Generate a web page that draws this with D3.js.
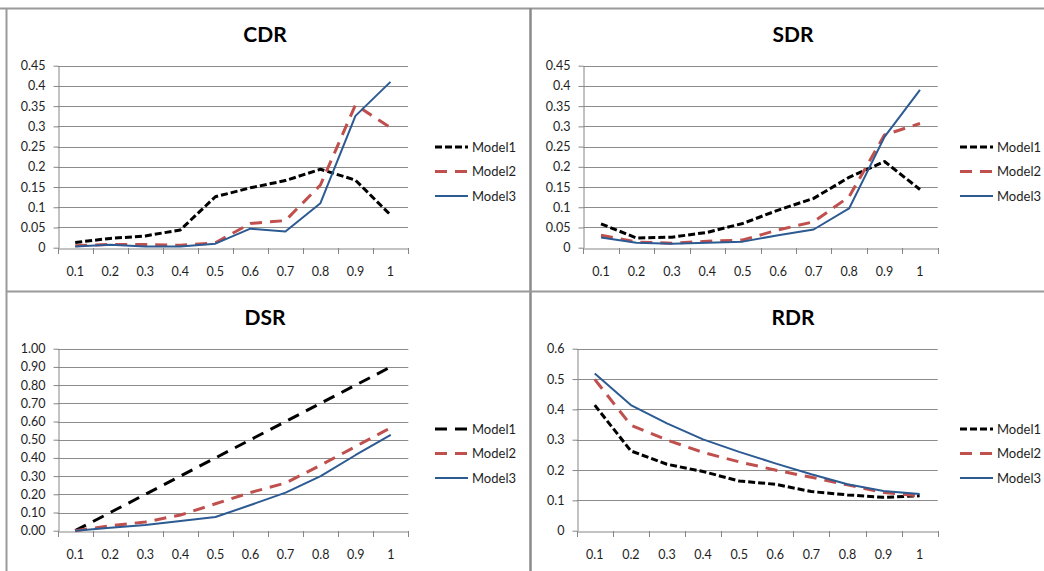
<!DOCTYPE html>
<html><head><meta charset="utf-8">
<script src="https://d3js.org/d3.v7.min.js"></script>
<style>
html,body{margin:0;padding:0;background:#fff;}
svg{display:block;font-family:Lato,"Liberation Sans",sans-serif;}
</style></head>
<body><svg id="c" width="1044" height="571"></svg>
<script>
const categories = ["0.1","0.2","0.3","0.4","0.5","0.6","0.7","0.8","0.9","1"];
const seriesNames = ["Model1","Model2","Model3"];

const cdrModel1 = [0.013,0.023,0.029,0.044,0.126,0.148,0.166,0.194,0.167,0.081];
const cdrModel2 = [0.005,0.008,0.008,0.006,0.012,0.060,0.067,0.155,0.353,0.297];
const cdrModel3 = [0.003,0.007,0.003,0.003,0.010,0.047,0.040,0.110,0.326,0.410];

const sdrModel1 = [0.059,0.024,0.026,0.038,0.060,0.093,0.122,0.174,0.213,0.144];
const sdrModel2 = [0.031,0.014,0.011,0.016,0.019,0.044,0.064,0.126,0.279,0.307];
const sdrModel3 = [0.025,0.012,0.010,0.012,0.015,0.031,0.045,0.097,0.274,0.390];

const dsrModel1 = [0.00,0.10,0.20,0.30,0.40,0.50,0.60,0.70,0.80,0.90];
const dsrModel2 = [0.000,0.027,0.048,0.086,0.148,0.210,0.262,0.360,0.463,0.566];
const dsrModel3 = [0.000,0.016,0.031,0.053,0.075,0.141,0.209,0.300,0.416,0.526];

const rdrModel1 = [0.414,0.263,0.219,0.195,0.164,0.153,0.129,0.118,0.110,0.115];
const rdrModel2 = [0.499,0.348,0.299,0.258,0.227,0.200,0.176,0.151,0.126,0.115];
const rdrModel3 = [0.518,0.414,0.354,0.301,0.260,0.222,0.186,0.153,0.131,0.121];

const ticks045 = [0,0.05,0.1,0.15,0.2,0.25,0.3,0.35,0.4,0.45];
const ticksDSR = [0,0.1,0.2,0.3,0.4,0.5,0.6,0.7,0.8,0.9,1.0];
const ticksRDR = [0,0.1,0.2,0.3,0.4,0.5,0.6];

const styles = [
  {color:"#000000", width:3, dash:"7,3"},
  {color:"#C0504D", width:3, dash:"12,8"},
  {color:"#2C5A92", width:2, dash:null}
];
const longDashBlack = {color:"#000000", width:3, dash:"12,8"};

const panels = [
  {title:"CDR", data:[cdrModel1,cdrModel2,cdrModel3], ticks:ticks045, max:0.45, fmt:d3.format("~g"),
   x0:57.7, x1:408, y0:65.7, y1:247.7, tx:265, ty:42, lx:435, ly:147, st:styles},
  {title:"SDR", data:[sdrModel1,sdrModel2,sdrModel3], ticks:ticks045, max:0.45, fmt:d3.format("~g"),
   x0:583.3, x1:937.7, y0:65.7, y1:247.7, tx:793, ty:42, lx:960, ly:147, st:styles},
  {title:"DSR", data:[dsrModel1,dsrModel2,dsrModel3], ticks:ticksDSR, max:1.0, fmt:d3.format(".2f"),
   x0:57.7, x1:408.3, y0:348.7, y1:530.7, tx:265, ty:325, lx:435, ly:429, st:[longDashBlack,styles[1],styles[2]]},
  {title:"RDR", data:[rdrModel1,rdrModel2,rdrModel3], ticks:ticksRDR, max:0.6, fmt:d3.format("~g"),
   x0:576.7, x1:937.7, y0:348.7, y1:530.7, tx:793, ty:325, lx:960, ly:429, st:styles}
];

const svg = d3.select("#c");

// panel borders
const border = "#9a9a9a";
svg.append("line").attr("x1",0).attr("x2",1044).attr("y1",8.5).attr("y2",8.5).attr("stroke",border).attr("stroke-width",2);
svg.append("line").attr("x1",6.5).attr("x2",6.5).attr("y1",8).attr("y2",571).attr("stroke",border).attr("stroke-width",2);
svg.append("line").attr("x1",530.5).attr("x2",530.5).attr("y1",8).attr("y2",571).attr("stroke","#8a8a8a").attr("stroke-width",2.5);
svg.append("line").attr("x1",6).attr("x2",1044).attr("y1",291.5).attr("y2",291.5).attr("stroke",border).attr("stroke-width",2);

const tickFont = "12.5px";

panels.forEach(p => {
  const g = svg.append("g");
  const x = d3.scaleBand().domain(categories).range([p.x0,p.x1]).padding(0);
  const y = d3.scaleLinear().domain([0,p.max]).range([p.y1,p.y0]);

  // gridlines
  g.append("g").selectAll("line").data(p.ticks.filter(t=>t>0)).join("line")
    .attr("x1",p.x0).attr("x2",p.x1)
    .attr("y1",d=>Math.round(y(d))+0.5).attr("y2",d=>Math.round(y(d))+0.5)
    .attr("stroke","#8c8c8c").attr("stroke-width",1);

  // y axis
  const ya = g.append("g").attr("transform",`translate(${Math.round(p.x0)+0.5},0)`)
    .call(d3.axisLeft(y).tickValues(p.ticks).tickSize(5).tickSizeOuter(0).tickPadding(8).tickFormat(p.fmt));
  ya.select(".domain").attr("stroke","#868686");
  ya.selectAll(".tick line").attr("stroke","#868686");
  ya.selectAll(".tick text").attr("fill","#1e1e1e").style("font-size",tickFont).style("font-family","Lato, 'Liberation Sans', sans-serif");

  // x axis labels
  const xa = g.append("g").attr("transform",`translate(0,${Math.round(p.y1)+0.5})`)
    .call(d3.axisBottom(x).tickSize(0).tickPadding(19));
  xa.select(".domain").attr("stroke","#868686");
  xa.selectAll(".tick text").attr("fill","#1e1e1e").style("font-size",tickFont).style("font-family","Lato, 'Liberation Sans', sans-serif");
  // boundary tick marks
  const bounds = categories.map(c=>x(c)).concat([p.x1]);
  g.append("g").selectAll("line").data(bounds).join("line")
    .attr("x1",d=>Math.round(d)+0.5).attr("x2",d=>Math.round(d)+0.5)
    .attr("y1",Math.round(p.y1)).attr("y2",Math.round(p.y1)+6)
    .attr("stroke","#868686");

  // lines
  const line = d3.line().x((d,i)=>x(categories[i])+x.bandwidth()/2).y(d=>y(d));
  p.data.forEach((vals,si)=>{
    const s = p.st[si];
    g.append("path").datum(vals).attr("d",line).attr("fill","none")
      .attr("stroke",s.color).attr("stroke-width",s.width)
      .attr("stroke-dasharray",s.dash).attr("stroke-linejoin","round");
  });

  // title
  g.append("text").attr("x",p.tx).attr("y",p.ty).attr("text-anchor","middle")
    .style("font-size","21px").style("font-weight","bold").attr("fill","#000").text(p.title);

  // legend
  seriesNames.forEach((n,si)=>{
    const s = p.st[si];
    const yy = p.ly + si*24.5;
    g.append("line").attr("x1",p.lx).attr("x2",p.lx+33).attr("y1",yy).attr("y2",yy)
      .attr("stroke",s.color).attr("stroke-width",s.width).attr("stroke-dasharray",s.dash);
    g.append("text").attr("x",p.lx+37).attr("y",yy).attr("dy","0.35em")
      .style("font-size","13px").attr("fill","#1e1e1e").text(n);
  });
});
</script></body></html>
